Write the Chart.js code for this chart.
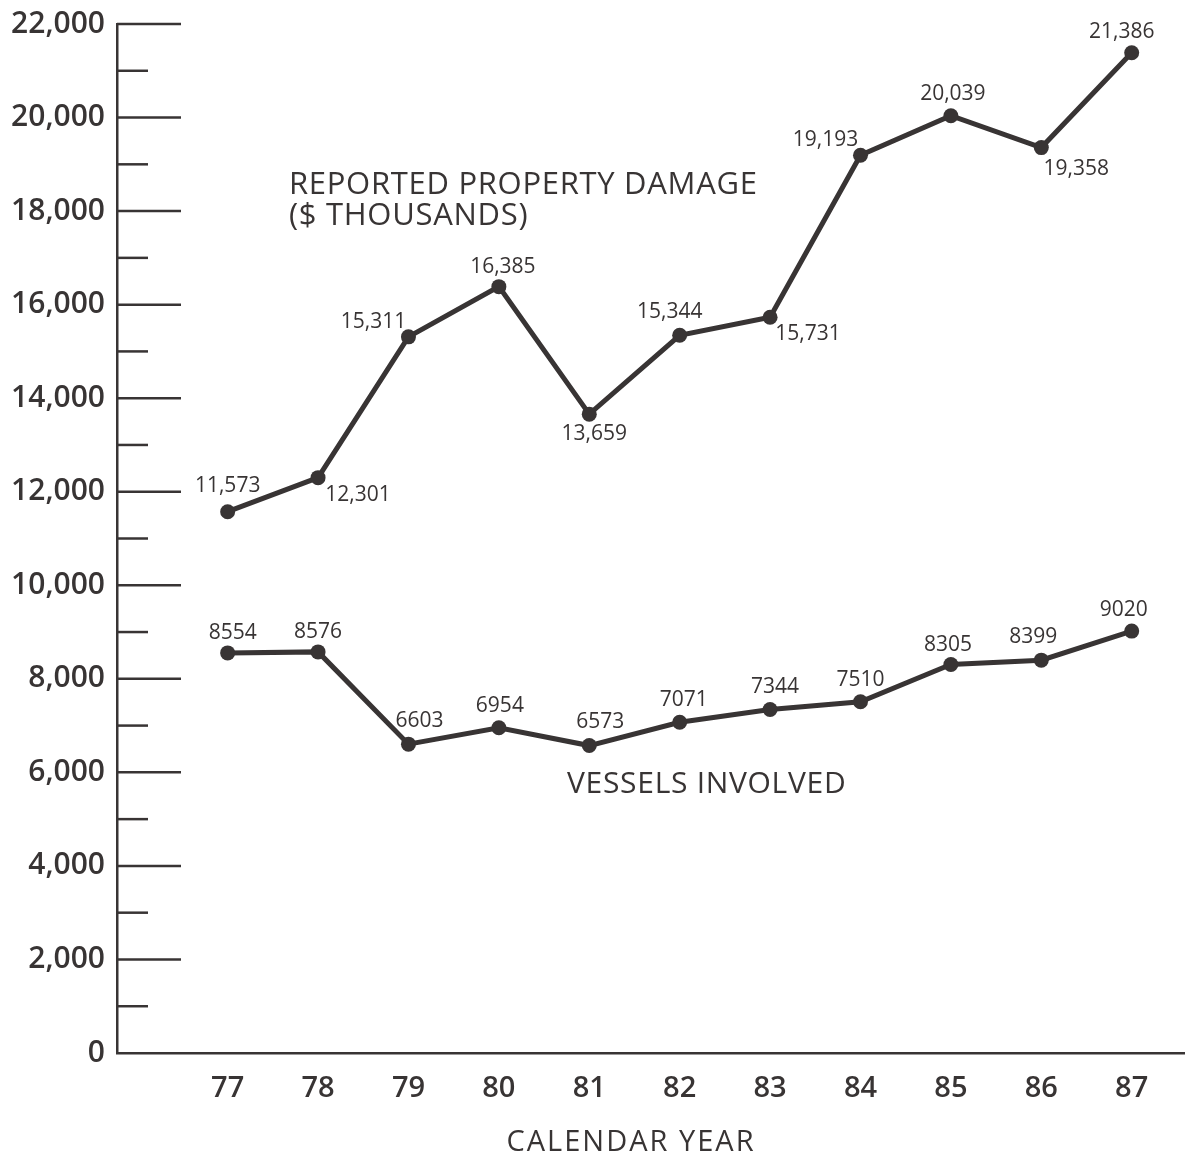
<!DOCTYPE html>
<html>
<head>
<meta charset="utf-8">
<script src="https://cdn.jsdelivr.net/npm/chart.js@4/dist/chart.umd.min.js"></script>
<style>
  html, body { margin: 0; padding: 0; background: #ffffff; }
  #wrap { width: 1192px; height: 1160px; }
</style>
</head>
<body>
<div id="wrap"><canvas id="c" width="1192" height="1160"></canvas></div>
<script>
// ---- data ----
const years = [77, 78, 79, 80, 81, 82, 83, 84, 85, 86, 87];
const yearLabels = ['77', '78', '79', '80', '81', '82', '83', '84', '85', '86', '87'];
const propertyDamage = [11573, 12301, 15311, 16385, 13659, 15344, 15731, 19193, 20039, 19358, 21386];
const vesselsInvolved = [8554, 8576, 6603, 6954, 6573, 7071, 7344, 7510, 8305, 8399, 9020];
const damageLabels = ['11,573', '12,301', '15,311', '16,385', '13,659', '15,344', '15,731', '19,193', '20,039', '19,358', '21,386'];
const vesselLabels = ['8554', '8576', '6603', '6954', '6573', '7071', '7344', '7510', '8305', '8399', '9020'];
const yTickValues = [0, 2000, 4000, 6000, 8000, 10000, 12000, 14000, 16000, 18000, 20000, 22000];
const xAxisTitle = 'CALENDAR YEAR';
const damageTitle = ['REPORTED PROPERTY DAMAGE', '($ THOUSANDS)'];
const vesselTitle = 'VESSELS INVOLVED';

// ---- label placement (pixel offsets from each point) ----
const damageOffsets = [[0,-26],[40,17],[-35,-15],[4,-20],[5,20],[-10,-23],[38,17],[-35,-15],[2,-22],[35,21],[-10,-21]];
const vesselOffsets = [[5,-20],[0,-20],[11,-23],[1,-22],[11,-24],[4,-22],[5,-22],[0,-22],[-3,-20],[-8,-23],[-8,-21]];

const INK = '#383434';
const FONT = '"Open Sans", "DejaVu Sans", sans-serif';

const pointLabelPlugin = {
  id: 'pointLabels',
  afterDatasetsDraw(chart) {
    const ctx = chart.ctx;
    ctx.save();
    ctx.fillStyle = INK;
    ctx.font = '21px ' + FONT;
    ctx.textAlign = 'center';
    ctx.textBaseline = 'middle';
    const sets = [[damageLabels, damageOffsets], [vesselLabels, vesselOffsets]];
    sets.forEach(([labels, offs], di) => {
      const meta = chart.getDatasetMeta(di);
      meta.data.forEach((el, i) => {
        ctx.fillText(labels[i], el.x + offs[i][0], el.y + offs[i][1]);
      });
    });
    // series annotations
    ctx.textAlign = 'left';
    ctx.font = '31px ' + FONT;
    ctx.letterSpacing = '0.7px';
    ctx.fillText(damageTitle[0], 289, 185);
    ctx.fillText(damageTitle[1], 289, 216);
    ctx.font = '30px ' + FONT;
    ctx.fillText(vesselTitle, 567, 784);
    // x axis title
    ctx.textAlign = 'center';
    ctx.font = '29px ' + FONT;
    ctx.letterSpacing = '2px';
    ctx.fillText(xAxisTitle, 631, 1143);
    ctx.restore();
  }
};

const innerTicksPlugin = {
  id: 'innerTicks',
  afterDraw(chart) {
    const y = chart.scales.y;
    const ctx = chart.ctx;
    const left = chart.chartArea.left;
    ctx.save();
    ctx.strokeStyle = INK;
    ctx.lineWidth = 2.5;
    for (let v = 1000; v <= 22000; v += 1000) {
      const py = y.getPixelForValue(v);
      const len = (v % 2000 === 0) ? 64 : 31;
      ctx.beginPath();
      ctx.moveTo(left, py);
      ctx.lineTo(left + len, py);
      ctx.stroke();
    }
    ctx.restore();
  }
};

new Chart(document.getElementById('c'), {
  type: 'line',
  data: {
    datasets: [
      {
        label: 'Reported property damage ($ thousands)',
        data: years.map((yr, i) => ({ x: yr, y: propertyDamage[i] })),
        borderColor: INK, backgroundColor: INK,
        borderWidth: 5, pointRadius: 7.5, pointBackgroundColor: INK, pointBorderWidth: 0,
        tension: 0, fill: false
      },
      {
        label: 'Vessels involved',
        data: years.map((yr, i) => ({ x: yr, y: vesselsInvolved[i] })),
        borderColor: INK, backgroundColor: INK,
        borderWidth: 5, pointRadius: 7.5, pointBackgroundColor: INK, pointBorderWidth: 0,
        tension: 0, fill: false
      }
    ]
  },
  options: {
    responsive: false,
    animation: false,
    events: [],
    layout: { padding: { top: 24, right: 4, left: 0, bottom: 0 } },
    plugins: { legend: { display: false }, tooltip: { enabled: false } },
    scales: {
      x: {
        type: 'linear',
        min: 75.776, max: 87.584,
        afterBuildTicks: (s) => { s.ticks = years.map(v => ({ value: v })); },
        afterFit: (s) => { s.height = 107; s.paddingLeft = 0; s.paddingRight = 0; },
        grid: { display: false, drawTicks: false },
        border: { display: true, color: INK, width: 2.5 },
        ticks: {
          color: INK, padding: 18,
          font: { family: FONT, size: 29, weight: '600' },
          callback: (v) => { const i = years.indexOf(v); return i >= 0 ? yearLabels[i] : ''; }
        },
        title: { display: false }
      },
      y: {
        min: 0, max: 22000,
        afterBuildTicks: (s) => { s.ticks = yTickValues.map(v => ({ value: v })); },
        afterFit: (s) => { s.width = 117; s.paddingTop = 0; s.paddingBottom = 0; },
        grid: { display: false, drawTicks: false },
        border: { display: true, color: INK, width: 2.5 },
        ticks: {
          color: INK, padding: 12,
          font: { family: FONT, size: 30, weight: '600' },
          callback: (v) => v.toLocaleString('en-US')
        }
      }
    }
  },
  plugins: [pointLabelPlugin, innerTicksPlugin]
});
</script>
</body>
</html>
